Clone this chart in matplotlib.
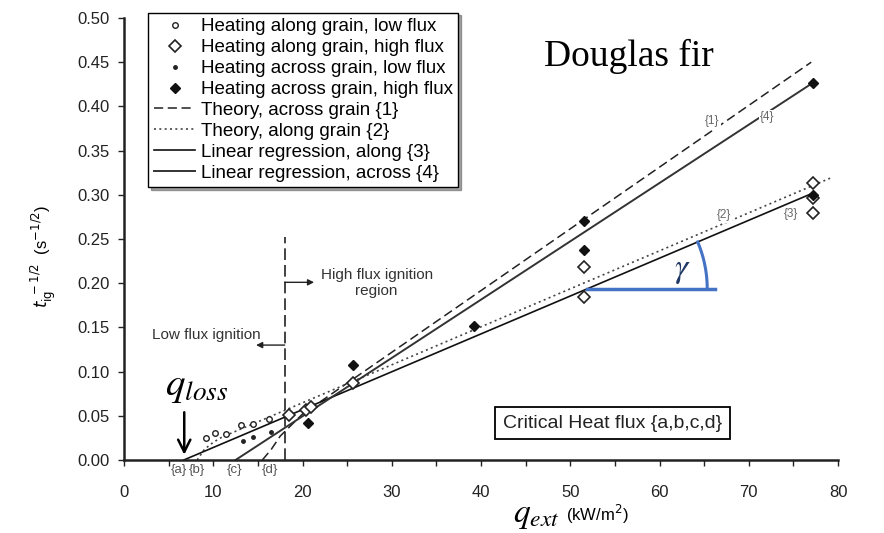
import numpy as np
import matplotlib
matplotlib.use('Agg')
import matplotlib.pyplot as plt

plt.rcParams['font.family'] = ['Liberation Sans', 'DejaVu Sans']

along_low_x = [9.2, 10.2, 11.4, 13.1, 14.5, 16.3]
along_low_y = [0.0245, 0.030, 0.029, 0.040, 0.041, 0.046]
along_high_x = [18.5, 20.4, 21.0, 25.7, 51.5, 51.5, 77.2, 77.2, 77.2]
along_high_y = [0.051, 0.0566, 0.0596, 0.0868, 0.2186, 0.1847, 0.3128, 0.296, 0.279]
across_low_x = [13.3, 14.5, 16.5]
across_low_y = [0.0215, 0.0257, 0.032]
across_high_x = [20.6, 25.7, 39.2, 51.5, 51.5, 77.2, 77.2]
across_high_y = [0.042, 0.108, 0.152, 0.270, 0.2375, 0.4268, 0.300]

# theory / regression lines
theory_across_x = [15.5, 16.5, 17.5, 20.0, 77.0]
theory_across_y = [0.0, 0.012, 0.027, 0.052, 0.450]
theory_along_x = [8.2, 9.0, 10.0, 11.0, 79.4]
theory_along_y = [0.0, 0.012, 0.020, 0.026, 0.320]
reg_along_x = [6.7, 77.2]
reg_along_y = [0.0, 0.302]
reg_across_x = [12.5, 77.2]
reg_across_y = [0.0, 0.4268]

crit_labels = ['{a}', '{b}', '{c}', '{d}']
crit_x = [6.1, 8.2, 12.4, 16.4]

fig = plt.figure(figsize=(8.84, 5.33), dpi=100)
ax = fig.add_axes([124 / 884, 73 / 533, 714 / 884, 442 / 533])

ax.plot(theory_across_x, theory_across_y, color='#222222', ls=(0, (6, 3)), lw=1.1,
        label='Theory, across grain {1}', zorder=2)
ax.plot(theory_along_x, theory_along_y, color='#444444', ls=(0, (1.2, 2)), lw=1.2,
        label='Theory, along grain {2}', zorder=2)
ax.plot(reg_along_x, reg_along_y, color='#111111', lw=1.2,
        label='Linear regression, along {3}', zorder=2)
ax.plot(reg_across_x, reg_across_y, color='#333333', lw=1.4,
        label='Linear regression, across {4}', zorder=2)

ax.plot(along_low_x, along_low_y, 'o', ms=4, mfc='white', mec='#222222', mew=1.0,
        label='Heating along grain, low flux', zorder=4)
ax.plot(along_high_x, along_high_y, 'D', ms=6, mfc='white', mec='#222222', mew=1.2,
        label='Heating along grain, high flux', zorder=4)
ax.plot(across_low_x, across_low_y, 'o', ms=2.5, color='#222222',
        label='Heating across grain, low flux', zorder=4)
ax.plot(across_high_x, across_high_y, 'D', ms=5, color='#111111',
        label='Heating across grain, high flux', zorder=5)

h, l = ax.get_legend_handles_labels()
order = [4, 5, 6, 7, 0, 1, 2, 3]
leg = ax.legend([h[i] for i in order], [l[i] for i in order], loc='upper left',
                bbox_to_anchor=(0.034, 1.012), borderaxespad=0, fontsize=13.5,
                handlelength=2.2, handletextpad=0.3, labelspacing=0.2,
                borderpad=0.3, fancybox=False, shadow=True, edgecolor='black',
                framealpha=1)
leg.get_frame().set_linewidth(1.0)

# line tags
tag_kw = dict(fontsize=8.5, color='#666666', ha='center', va='center', zorder=3,
              bbox=dict(facecolor='white', edgecolor='none', pad=1.0))
ax.text(65.9, 0.383, '{1}', **tag_kw)
ax.text(72.1, 0.388, '{4}', **tag_kw)
ax.text(67.2, 0.277, '{2}', **tag_kw)
ax.text(74.7, 0.278, '{3}', **tag_kw)

# critical heat flux tags under the axis
for lab, cx in zip(crit_labels, crit_x):
    ax.text(cx, -0.0113, lab, fontsize=9.5, color='#555555', ha='center', va='center',
            clip_on=False)

# ignition region marker
ax.plot([18, 18], [0, 0.252], color='#222222', ls=(0, (7, 3)), lw=1.2, zorder=1)
ax.annotate('', xy=(21.3, 0.201), xytext=(18, 0.201),
            arrowprops=dict(arrowstyle='-|>', color='#222222', lw=1.0,
                            mutation_scale=9, shrinkA=0, shrinkB=0))
ax.annotate('', xy=(14.8, 0.130), xytext=(18, 0.130),
            arrowprops=dict(arrowstyle='-|>', color='#222222', lw=1.0,
                            mutation_scale=9, shrinkA=0, shrinkB=0))
ax.text(28.3, 0.200, 'High flux ignition\nregion', fontsize=11, color='#333333',
        ha='center', va='center', linespacing=1.15)
ax.text(15.3, 0.141, 'Low flux ignition', fontsize=11, color='#333333',
        ha='right', va='center')

ax.text(54.7, 0.0418, 'Critical Heat flux {a,b,c,d}', fontsize=14, color='#222222',
        ha='center', va='center',
        bbox=dict(boxstyle='square,pad=0.4', facecolor='white', edgecolor='black', lw=1.3))

ax.text(56.6, 0.457, 'Douglas fir', fontsize=27, family='Liberation Serif',
        ha='center', va='center')

# q_loss with arrow
ax.text(8.1, 0.083, r'$q_{loss}$', fontsize=28, math_fontfamily='stix',
        ha='center', va='center')
ax.annotate('', xy=(6.75, 0.006), xytext=(6.75, 0.054),
            arrowprops=dict(arrowstyle='->', color='black', lw=1.8,
                            mutation_scale=22, shrinkA=0, shrinkB=0))

# gamma angle on regression {3}
sx = 714 / 80.0
sy = 442 / 0.5
g_x0 = 51.9
g_y0 = np.interp(g_x0, reg_along_x, reg_along_y)
slope = (reg_along_y[1] - reg_along_y[0]) / (reg_along_x[1] - reg_along_x[0])
ang = np.arctan(slope * sy / sx)
r_px = 120
t = np.linspace(0, ang, 50)
ax.plot(g_x0 + r_px * np.cos(t) / sx, g_y0 + r_px * np.sin(t) / sy,
        color='#4472C4', lw=2.2, zorder=6)
ax.plot([g_x0, g_x0 + 128 / sx], [g_y0, g_y0], color='#4472C4', lw=2.5, zorder=6)
ax.text(62.6, 0.214, r'$\gamma$', fontsize=24, math_fontfamily='stix',
        color='#1F3864', ha='center', va='center')

ax.set_xlim(0, 80)
ax.set_ylim(0, 0.5)
ax.set_xticks(np.arange(0, 81, 5))
ax.set_xticklabels([str(v) if v % 10 == 0 else '' for v in range(0, 81, 5)])
ax.set_yticks(np.arange(0, 0.501, 0.05))
ax.set_yticklabels(['%.2f' % v for v in np.arange(0, 0.501, 0.05)])
ax.tick_params(axis='both', labelsize=12, direction='out', length=4, width=1,
               colors='#222222')
ax.tick_params(axis='x', pad=14)
ax.tick_params(axis='y', pad=6)
for s in ['top', 'right']:
    ax.spines[s].set_visible(False)
for s in ['left', 'bottom']:
    ax.spines[s].set_linewidth(1.8)
    ax.spines[s].set_color('#222222')

ax.set_ylabel(r'$t_{\mathrm{ig}}^{\ -1/2}$  (s$^{-1/2}$)', fontsize=12,
              math_fontfamily='dejavusans')
ax.yaxis.set_label_coords(-0.092, 0.46)

fig.text(513 / 884, 11 / 533, r'$q_{ext}$', fontsize=24, math_fontfamily='stix',
         ha='left', va='baseline')
fig.text(566 / 884, 12 / 533, '(kW/m$^2$)', fontsize=12, ha='left', va='baseline')

fig.savefig('out.png', dpi=100)
